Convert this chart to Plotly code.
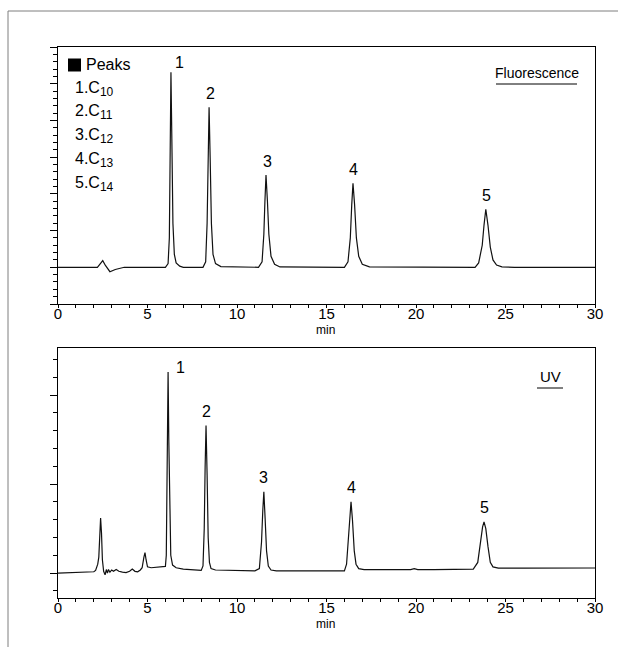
import plotly.graph_objects as go

W, H = 618, 647
FONT = "Liberation Sans, Arial, sans-serif"

# ---- Fluorescence trace (time in min, signal in arbitrary units) ----
fl_time = [0, 2.2, 2.4, 2.5, 2.65, 2.9, 3.2, 3.5, 3.7,
           6.0, 6.15, 6.22, 6.27, 6.31, 6.36, 6.42, 6.5, 6.6, 6.8, 7.0,
           8.1, 8.25, 8.33, 8.38, 8.44, 8.5, 8.57, 8.66, 8.8, 9.1,
           11.2, 11.4, 11.5, 11.56, 11.62, 11.7, 11.78, 11.9, 12.1, 12.4,
           16.0, 16.2, 16.33, 16.41, 16.48, 16.57, 16.67, 16.8, 17.0, 17.4,
           23.3, 23.5, 23.7, 23.8, 23.9, 24.02, 24.15, 24.3, 24.5, 24.8, 25.5, 30]
fl_signal = [0, 0, 0.12, 0.18, 0.05, -0.12, -0.06, -0.02, 0,
             0, 0.1, 0.8, 3.0, 5.31, 3.5, 1.2, 0.35, 0.12, 0.03, 0,
             0, 0.15, 1.2, 3.0, 4.36, 3.0, 1.2, 0.35, 0.1, 0.02,
             0, 0.15, 0.9, 1.8, 2.51, 1.8, 0.9, 0.3, 0.08, 0.01,
             0, 0.15, 0.8, 1.7, 2.29, 1.7, 0.8, 0.3, 0.08, 0.01,
             0, 0.12, 0.6, 1.15, 1.58, 1.15, 0.55, 0.2, 0.06, 0.01, 0, 0]

# ---- UV trace ----
uv_time = [0, 1.0, 1.5, 2.0, 2.1, 2.22, 2.28, 2.33, 2.38, 2.43, 2.48, 2.55, 2.63,
           2.7, 2.76, 2.82, 2.9, 3.0, 3.1, 3.25, 3.4, 3.6, 3.8, 4.0, 4.15, 4.3,
           4.45, 4.6, 4.7, 4.8, 4.86, 4.92, 5.0, 5.2, 5.5, 5.8, 6.0,
           6.05, 6.09, 6.12, 6.15, 6.19, 6.24, 6.3, 6.4, 6.6, 7.0, 7.5, 8.0,
           8.1, 8.17, 8.22, 8.27, 8.33, 8.39, 8.46, 8.55, 8.8, 10.0, 11.0,
           11.25, 11.37, 11.44, 11.5, 11.57, 11.65, 11.75, 11.9, 12.2, 14.0, 16.0,
           16.12, 16.22, 16.3, 16.37, 16.45, 16.55, 16.65, 16.8, 17.1, 18.0,
           19.7, 19.9, 20.1, 21.0, 23.2,
           23.45, 23.6, 23.72, 23.8, 23.9, 24.02, 24.15, 24.3, 24.6, 26.0, 28.0, 30.0]
uv_signal = [0, 0.005, 0.015, 0.015, 0.03, 0.10, 0.18, 0.45, 0.62, 0.45, 0.15, 0.02, -0.02,
             0.04, 0.0, 0.04, 0.01, 0.035, 0.02, 0.04, 0.02, 0.01, 0.005, 0.02, 0.045, 0.02,
             0.015, 0.035, 0.06, 0.18, 0.23, 0.15, 0.07, 0.06, 0.065, 0.07, 0.075,
             0.2, 0.9, 1.7, 2.26, 1.5, 0.6, 0.2, 0.09, 0.06, 0.045, 0.035, 0.03,
             0.08, 0.5, 1.2, 1.66, 1.1, 0.4, 0.12, 0.05, 0.035, 0.03, 0.025,
             0.05, 0.35, 0.7, 0.915, 0.62, 0.25, 0.08, 0.035, 0.025, 0.022, 0.025,
             0.1, 0.4, 0.68, 0.80, 0.6, 0.25, 0.1, 0.05, 0.04, 0.038,
             0.04, 0.05, 0.04, 0.04, 0.045,
             0.12, 0.35, 0.52, 0.576, 0.5, 0.3, 0.12, 0.07, 0.055, 0.055, 0.058, 0.057]

# ---- peak labels ----
peak_ids = ["1", "2", "3", "4", "5"]
fl_peak_time = [6.31, 8.44, 11.62, 16.48, 23.9]
fl_peak_height = [5.31, 4.36, 2.51, 2.29, 1.58]
uv_peak_time = [6.15, 8.27, 11.5, 16.37, 23.8]
uv_peak_height = [2.26, 1.66, 0.915, 0.80, 0.576]

legend_title = "Peaks"
compounds = ["1.C<sub><span style='font-size:12px'>10</span></sub>",
             "2.C<sub><span style='font-size:12px'>11</span></sub>",
             "3.C<sub><span style='font-size:12px'>12</span></sub>",
             "4.C<sub><span style='font-size:12px'>13</span></sub>",
             "5.C<sub><span style='font-size:12px'>14</span></sub>"]

x_ticks = [0, 5, 10, 15, 20, 25, 30]


def px(x):
    return x / W


def py(y):
    return 1 - y / H


fig = go.Figure()
fig.add_trace(go.Scatter(x=fl_time, y=fl_signal, mode="lines",
                         line=dict(color="#111111", width=1.2),
                         xaxis="x", yaxis="y", showlegend=False, hoverinfo="skip"))
fig.add_trace(go.Scatter(x=uv_time, y=uv_signal, mode="lines",
                         line=dict(color="#111111", width=1.2),
                         xaxis="x2", yaxis="y2", showlegend=False, hoverinfo="skip"))

xdom = [px(58), px(595)]
top_dom = [py(304), py(47)]
bot_dom = [py(598), py(348)]

xaxis_common = dict(
    range=[0, 30], tickvals=x_ticks, ticktext=[str(v) for v in x_ticks],
    showgrid=False, zeroline=False, showline=True, linecolor="black", linewidth=1,
    mirror=True, ticks="outside", ticklen=3, tickcolor="black", tickwidth=1,
    minor=dict(ticks="outside", dtick=1, ticklen=3, tickcolor="black", tickwidth=1),
    tickfont=dict(family=FONT, size=15, color="black"),
    ticklabelstandoff=-7,
    automargin=False, domain=xdom, fixedrange=True,
)

yaxis_common = dict(
    showgrid=False, zeroline=False, showline=True, linecolor="black", linewidth=1,
    mirror=True, ticks="outside", ticklen=7, tickcolor="black", tickwidth=1,
    showticklabels=False, dtick=1, tick0=0,
    minor=dict(ticks="outside", dtick=0.2, ticklen=4, tickcolor="black", tickwidth=1),
    automargin=False, fixedrange=True,
)

fig.update_layout(
    width=W, height=H, margin=dict(l=0, r=0, t=0, b=0),
    paper_bgcolor="white", plot_bgcolor="white",
    font=dict(family=FONT, color="black"),
    xaxis=dict(**xaxis_common, anchor="y"),
    yaxis=dict(**yaxis_common, range=[-1, 6], domain=top_dom, anchor="x"),
    xaxis2=dict(**xaxis_common, anchor="y2"),
    yaxis2=dict(**yaxis_common, range=[-0.28, 2.53], domain=bot_dom, anchor="x2"),
)

annotations = []
for i, pid in enumerate(peak_ids):
    annotations.append(dict(x=fl_peak_time[i], y=fl_peak_height[i], xref="x", yref="y",
                            text=pid, showarrow=False, yanchor="middle",
                            xshift=9 if i == 0 else 1, yshift=10 if i == 0 else 14,
                            font=dict(family=FONT, size=16, color="black")))
    annotations.append(dict(x=uv_peak_time[i], y=uv_peak_height[i], xref="x2", yref="y2",
                            text=pid, showarrow=False, yanchor="middle",
                            xshift=12 if i == 0 else 0, yshift=5 if i == 0 else 14,
                            font=dict(family=FONT, size=16, color="black")))

# x-axis titles
for yy in (330, 624):
    annotations.append(dict(x=px(326), y=py(yy), xref="paper", yref="paper", text="min",
                            showarrow=False, xanchor="center", yanchor="middle",
                            font=dict(family=FONT, size=12, color="black")))

annotations.append(dict(x=px(84), y=py(65), xref="paper", yref="paper", text=legend_title,
                        showarrow=False, xanchor="left", yanchor="middle",
                        font=dict(family=FONT, size=16, color="black")))
leg_y = [89, 112, 136, 160, 184]
for t, yy in zip(compounds, leg_y):
    annotations.append(dict(x=px(73), y=py(yy), xref="paper", yref="paper", text=t,
                            showarrow=False, xanchor="left", yanchor="middle",
                            font=dict(family=FONT, size=16, color="black")))

annotations.append(dict(x=px(536.5), y=py(73), xref="paper", yref="paper", text="Fluorescence",
                        showarrow=False, xanchor="center", yanchor="middle",
                        font=dict(family=FONT, size=14, color="black")))
annotations.append(dict(x=px(550), y=py(376), xref="paper", yref="paper", text="UV",
                        showarrow=False, xanchor="center", yanchor="middle",
                        font=dict(family=FONT, size=15, color="black")))

shapes = [
    # outer frame
    dict(type="line", xref="paper", yref="paper", x0=px(8), x1=1, y0=py(11), y1=py(11),
         line=dict(color="#7f7f7f", width=1)),
    dict(type="line", xref="paper", yref="paper", x0=px(8), x1=px(8), y0=py(11), y1=0,
         line=dict(color="#7f7f7f", width=1)),
    # legend square
    dict(type="rect", xref="paper", yref="paper", x0=px(68), x1=px(81), y0=py(71.5), y1=py(58.5),
         fillcolor="black", line=dict(width=0)),
    # underlines
    dict(type="line", xref="paper", yref="paper", x0=px(496), x1=px(577), y0=py(84), y1=py(84),
         line=dict(color="black", width=1)),
    dict(type="line", xref="paper", yref="paper", x0=px(537), x1=px(563), y0=py(388), y1=py(388),
         line=dict(color="black", width=1)),
]

fig.update_layout(annotations=annotations, shapes=shapes)
fig.write_html("out.html", config={"displayModeBar": False},
               post_script="document.body.style.margin='0px';")
